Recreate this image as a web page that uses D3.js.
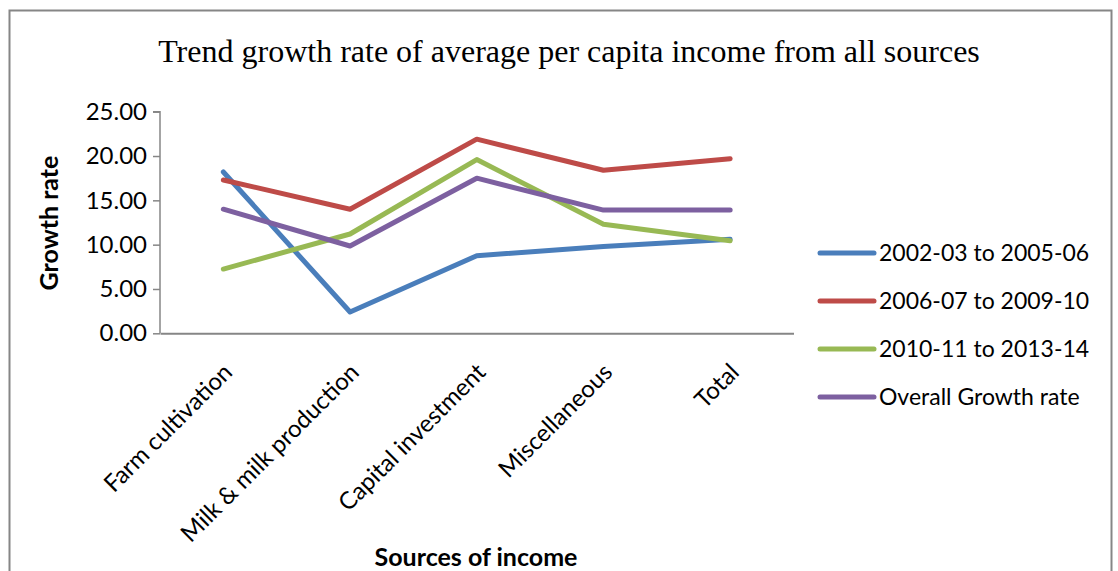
<!DOCTYPE html>
<html>
<head>
<meta charset="utf-8">
<script src="https://cdn.jsdelivr.net/npm/d3@7"></script>
<style>
  body { margin: 0; background: #fff; }
  svg { display: block; }
  .tick text { font-family: Lato, "Open Sans", sans-serif; }
</style>
</head>
<body>
<div class="chart"></div>
<script>
// categories on the x axis
var sources = ["Farm cultivation", "Milk & milk production", "Capital investment", "Miscellaneous", "Total"];

// series values
var period1 = [18.2, 2.4, 8.75, 9.8, 10.6];   // 2002-03 to 2005-06
var period2 = [17.3, 14.0, 21.9, 18.4, 19.7]; // 2006-07 to 2009-10
var period3 = [7.25, 11.2, 19.6, 12.3, 10.45]; // 2010-11 to 2013-14
var overall = [14.0, 9.85, 17.5, 13.9, 13.9];  // Overall Growth rate

var seriesNames = ["2002-03 to 2005-06", "2006-07 to 2009-10", "2010-11 to 2013-14", "Overall Growth rate"];
var seriesColors = ["#4A7EBB", "#BE4B48", "#98B954", "#7D60A0"];
var yTicks = [0, 5, 10, 15, 20, 25];

var width = 1118, height = 571;
var margin = { top: 111.7, left: 160, plotW: 633.5, plotH: 221.6 };

var svg = d3.select(".chart").append("svg")
  .attr("width", width)
  .attr("height", height);

// outer chart frame
svg.append("rect")
  .attr("x", 9.5).attr("y", 10.5)
  .attr("width", 1102).attr("height", 580)
  .attr("fill", "none")
  .attr("stroke", "#868686")
  .attr("stroke-width", 2);

svg.append("text")
  .attr("x", 569).attr("y", 62)
  .attr("text-anchor", "middle")
  .attr("font-family", "'Liberation Serif', 'Times New Roman', serif")
  .attr("font-size", "32px")
  .text("Trend growth rate of average per capita income from all sources");

var g = svg.append("g")
  .attr("transform", "translate(" + margin.left + "," + margin.top + ")");

var xScale = d3.scaleBand().domain(sources).range([0, margin.plotW]);
var yScale = d3.scaleLinear().domain([0, 25]).range([margin.plotH, 0]);

var yAxis = d3.axisLeft(yScale)
  .tickValues(yTicks)
  .tickSize(7)
  .tickPadding(6)
  .tickFormat(d3.format(".2f"));

var yG = g.append("g").call(yAxis);
yG.selectAll("path, line").attr("stroke", "#868686").attr("stroke-width", 1.5);
yG.select(".domain").attr("d", "M-7,0H0V" + margin.plotH);
yG.selectAll("text").attr("font-size", "24px").attr("fill", "#000");

var xAxis = d3.axisBottom(xScale).tickSize(0).tickPadding(12);
var xG = g.append("g")
  .attr("transform", "translate(0," + margin.plotH + ")")
  .call(xAxis);
xG.select(".domain").attr("stroke", "#868686").attr("stroke-width", 2);
xG.selectAll("text")
  .attr("font-size", "24px")
  .attr("fill", "#000")
  .attr("text-anchor", "end")
  .attr("dy", "0.35em")
  .attr("transform", "translate(-4,26) rotate(-45)");

// axis titles
svg.append("text")
  .attr("transform", "translate(58,223) rotate(-90)")
  .attr("text-anchor", "middle")
  .attr("font-family", "Lato, 'Open Sans', sans-serif")
  .attr("font-weight", "bold")
  .attr("font-size", "25px")
  .text("Growth rate");

svg.append("text")
  .attr("x", 476).attr("y", 566)
  .attr("text-anchor", "middle")
  .attr("font-family", "Lato, 'Open Sans', sans-serif")
  .attr("font-weight", "bold")
  .attr("font-size", "25px")
  .text("Sources of income");

var allSeries = [period1, period2, period3, overall];

var lineGen = d3.line()
  .x(function (d, i) { return xScale(sources[i]) + xScale.bandwidth() / 2; })
  .y(function (d) { return yScale(d); });

allSeries.forEach(function (vals, k) {
  g.append("path")
    .attr("d", lineGen(vals))
    .attr("fill", "none")
    .attr("stroke", seriesColors[k])
    .attr("stroke-width", 5)
    .attr("stroke-linejoin", "round")
    .attr("stroke-linecap", "round");
});

// legend
var legend = svg.append("g").attr("transform", "translate(820,253)");
seriesNames.forEach(function (name, k) {
  var row = legend.append("g").attr("transform", "translate(0," + (k * 48) + ")");
  row.append("line")
    .attr("x1", 0).attr("x2", 54)
    .attr("stroke", seriesColors[k])
    .attr("stroke-width", 5)
    .attr("stroke-linecap", "round");
  row.append("text")
    .attr("x", 59).attr("dy", "0.35em")
    .attr("font-family", "Lato, 'Open Sans', sans-serif")
    .attr("font-size", "23px")
    .text(name);
});
</script>
</body>
</html>
